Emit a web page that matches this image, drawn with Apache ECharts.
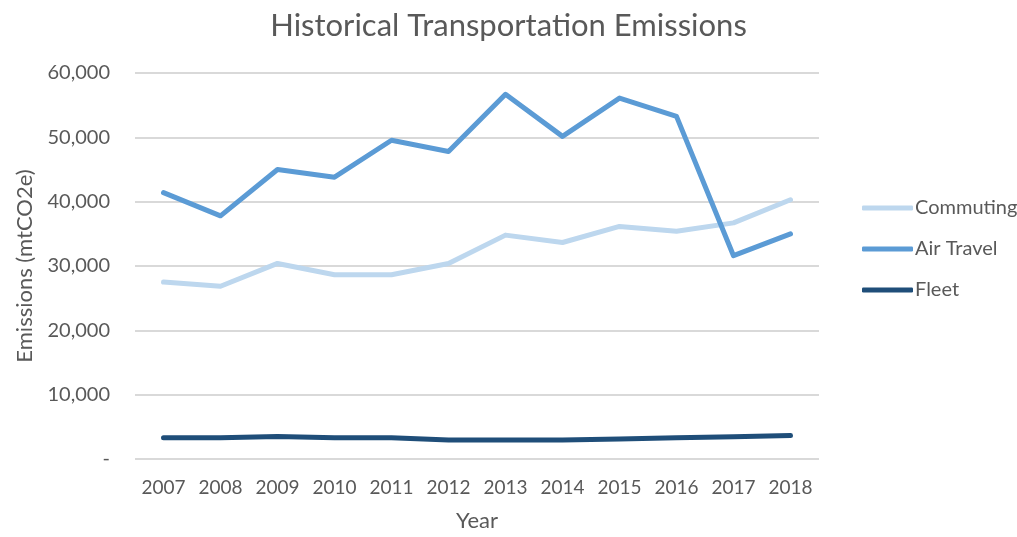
<!DOCTYPE html>
<html>
<head>
<meta charset="utf-8">
<script src="https://cdn.jsdelivr.net/npm/echarts@6/dist/echarts.min.js"></script>
<style>
  html, body { margin: 0; padding: 0; background: #fff; }
  #chart { width: 1017px; height: 537px; }
</style>
</head>
<body>
<div id="chart"></div>
<script>
// Data
const years = ['2007', '2008', '2009', '2010', '2011', '2012', '2013', '2014', '2015', '2016', '2017', '2018'];
const commuting = [27500, 26850, 30400, 28650, 28650, 30400, 34800, 33650, 36150, 35400, 36700, 40300];
const airTravel = [41400, 37800, 45000, 43800, 49550, 47800, 56700, 50150, 56100, 53250, 31600, 35000];
const fleet = [3300, 3300, 3500, 3300, 3300, 2950, 2950, 2950, 3100, 3300, 3450, 3650];
const yTicks = [0, 10000, 20000, 30000, 40000, 50000, 60000];

const FONT = 'Lato';
const TXT = '#595959';

const chart = echarts.init(document.getElementById('chart'));

function line(name, data, color) {
    return {
        name: name,
        type: 'line',
        data: data,
        symbol: 'none',
        lineStyle: { color: color, width: 5, cap: 'round', join: 'round' },
        itemStyle: { color: color }
    };
}

const option = {
    backgroundColor: '#fff',
    animation: false,
    title: {
        text: 'Historical Transportation Emissions',
        left: 'center',
        top: 5,
        textStyle: { fontFamily: FONT, fontSize: 31, fontWeight: 'normal', color: TXT }
    },
    legend: {
        orient: 'vertical',
        left: 857,
        top: 193,
        icon: 'roundRect',
        itemWidth: 51,
        itemHeight: 5,
        itemGap: 21,
        textStyle: { fontFamily: FONT, fontSize: 20, color: TXT, padding: [0, 0, 0, -3] },
        data: ['Commuting', 'Air Travel', 'Fleet']
    },
    grid: { left: 135, right: 198, top: 73, bottom: 74, containLabel: false },
    xAxis: {
        type: 'category',
        data: years,
        boundaryGap: true,
        name: 'Year',
        nameLocation: 'middle',
        nameGap: 51,
        nameTextStyle: { fontFamily: FONT, fontSize: 22, color: TXT },
        axisLine: { show: false },
        axisTick: { show: false },
        axisLabel: { interval: 0, fontFamily: FONT, fontSize: 19, color: TXT, margin: 19 }
    },
    yAxis: {
        type: 'value',
        min: yTicks[0],
        max: yTicks[yTicks.length - 1],
        interval: 10000,
        name: 'Emissions (mtCO2e)',
        nameLocation: 'middle',
        nameGap: 99,
        nameTextStyle: { fontFamily: FONT, fontSize: 22, color: TXT },
        axisLine: { show: false },
        axisTick: { show: false },
        splitLine: { lineStyle: { color: '#D9D9D9', width: 2 } },
        axisLabel: {
            fontFamily: FONT, fontSize: 20, color: TXT, margin: 25,
            formatter: v => v === 0 ? '-' : v.toLocaleString('en-US')
        }
    },
    series: [
        line('Commuting', commuting, '#BDD7EE'),
        line('Air Travel', airTravel, '#5B9BD5'),
        line('Fleet', fleet, '#1F4E79')
    ]
};

chart.setOption(option);
</script>
</body>
</html>
